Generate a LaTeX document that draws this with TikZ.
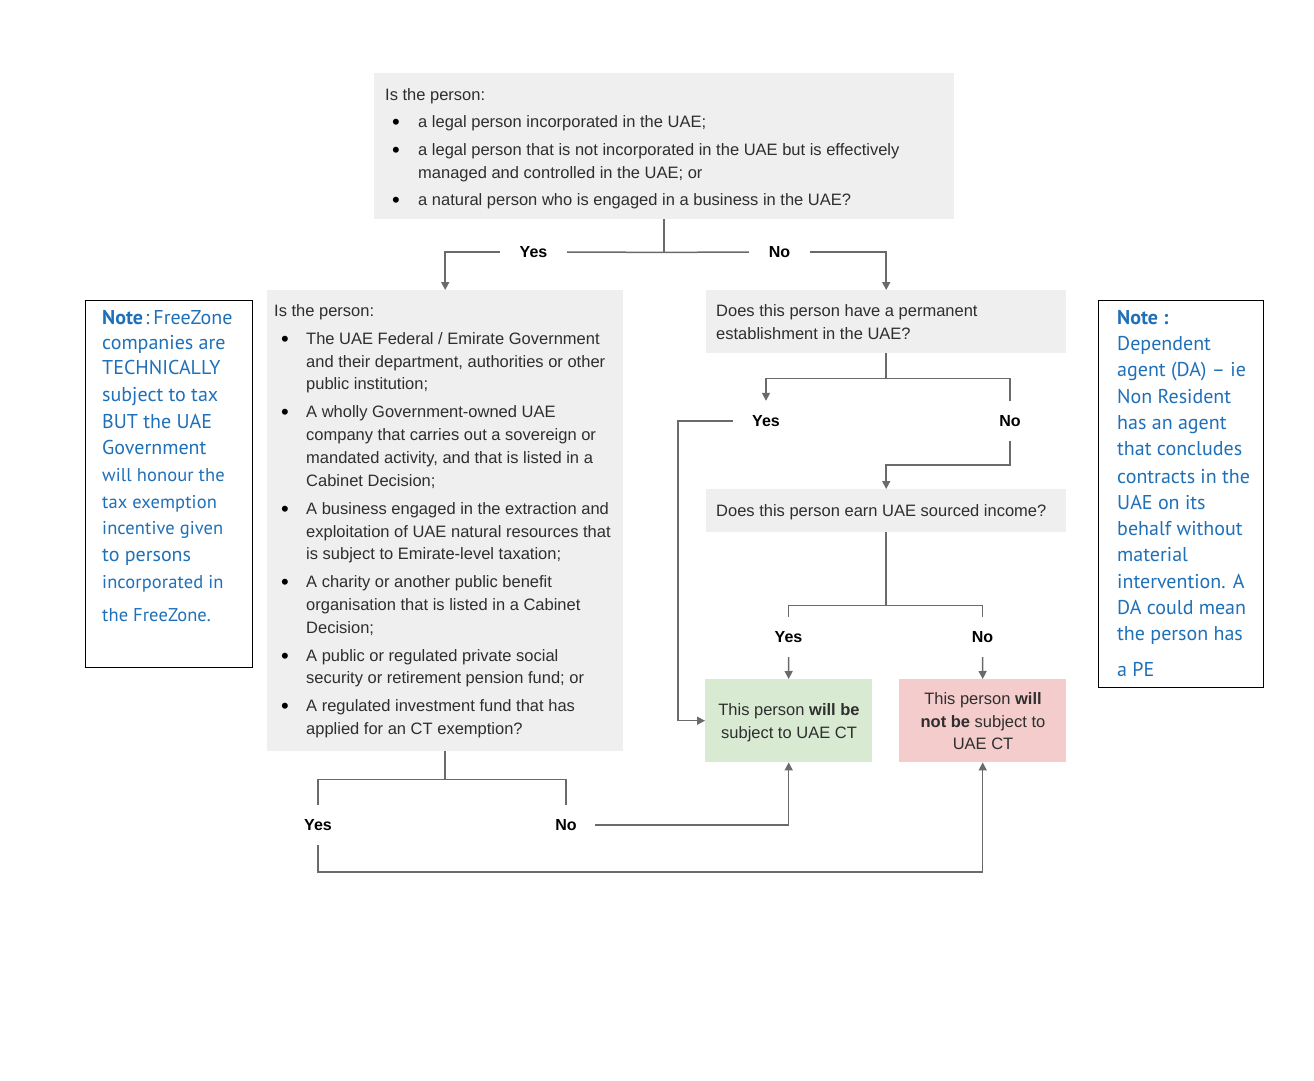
\documentclass[tikz,border=0pt]{standalone}
\usepackage{fontspec}
\setmainfont{Liberation Sans}
\newfontfamily\notefont{PT Sans}
\usetikzlibrary{arrows.meta}
\definecolor{boxgray}{HTML}{EFEFEF}
\definecolor{linegray}{HTML}{6A6A6A}
\definecolor{txtgray}{HTML}{2E2E2E}
\definecolor{yesgreen}{HTML}{D9EAD3}
\definecolor{nored}{HTML}{F4CCCC}
\definecolor{noteblue}{HTML}{1F70B8}
\begin{document}
\begin{tikzpicture}[x=1pt,y=-1pt,
  qbox/.style={fill=boxgray,draw=none,inner sep=0,anchor=north west},
  tx/.style={anchor=base west,inner sep=0,text=txtgray,font=\fontsize{16.5}{19}\selectfont},
  ctx/.style={anchor=base,inner sep=0,text=txtgray,font=\fontsize{16.5}{19}\selectfont},
  bul/.style={anchor=base,inner sep=0,text=black,font=\fontsize{22}{22}\selectfont},
  lab/.style={font=\bfseries\fontsize{16}{19}\selectfont,text=black,inner sep=0,minimum height=40pt},
  conn/.style={draw=linegray,line width=1.5pt},
  arr/.style={conn,-{Triangle[length=8pt,width=8pt]}},
  notebox/.style={draw=black,line width=1pt,fill=white,inner sep=0,anchor=north west},
  ntx/.style={anchor=base west,inner sep=0,text=noteblue,font=\notefont\fontsize{20}{24}\selectfont},
  ntxs/.style={anchor=base west,inner sep=0,text=noteblue,font=\notefont\fontsize{18.5}{22}\selectfont\addfontfeature{LetterSpace=0.5}}
]
\useasboundingbox (0,0) rectangle (1314,1080);
\fill[white] (0,0) rectangle (1314,1080);

% ---------- question boxes ----------
\node[qbox,minimum width=580pt,minimum height=146pt] (q1) at (374,73) {};
\node[qbox,minimum width=356pt,minimum height=461pt] (q2) at (267,290) {};
\node[qbox,minimum width=360pt,minimum height=63pt] (q3) at (706,290) {};
\node[qbox,minimum width=360pt,minimum height=43pt] (q4) at (706,489) {};
\node[qbox,fill=yesgreen,minimum width=167pt,minimum height=83pt] (g) at (705,679) {};
\node[qbox,fill=nored,minimum width=167pt,minimum height=83pt] (r) at (899,679) {};

% ---------- text of box q1 ----------
\node[tx] (q1t0) at (385,100) {Is the person:};
\foreach \i/\y in {1/129,2/157,3/207} \node[bul] (q1b\i) at (396,\y) {•};
\foreach \i/\y/\t in {1/127/{a legal person incorporated in the UAE;},
  2/155/{a legal person that is not incorporated in the UAE but is effectively},
  3/178/{managed and controlled in the UAE; or},
  4/205/{a natural person who is engaged in a business in the UAE?}}
  \node[tx] (q1t\i) at (418,\y) {\t};

% ---------- text of box q2 ----------
\node[tx] (q2t0) at (274,316) {Is the person:};
\foreach \i/\y in {1/346,2/419,3/516,4/589,5/663,6/713} \node[bul] (q2b\i) at (285,\y) {•};
\foreach \i/\y/\t in {1/344/{The UAE Federal / Emirate Government},
  2/367/{and their department, authorities or other},
  3/389/{public institution;},
  4/417/{A wholly Government-owned UAE},
  5/440/{company that carries out a sovereign or},
  6/463/{mandated activity, and that is listed in a},
  7/486/{Cabinet Decision;},
  8/514/{A business engaged in the extraction and},
  9/537/{exploitation of UAE natural resources that},
  10/559/{is subject to Emirate-level taxation;},
  11/587/{A charity or another public benefit},
  12/610/{organisation that is listed in a Cabinet},
  13/633/{Decision;},
  14/661/{A public or regulated private social},
  15/683/{security or retirement pension fund; or},
  16/711/{A regulated investment fund that has},
  17/734/{applied for an CT exemption?}}
  \node[tx] (q2t\i) at (306,\y) {\t};

% ---------- text of q3, q4 ----------
\node[tx] (q3t1) at (716,316) {Does this person have a permanent};
\node[tx] (q3t2) at (716,339) {establishment in the UAE?};
\node[tx] (q4t1) at (716,516) {Does this person earn UAE sourced income?};

% ---------- outcome texts ----------
\node[ctx] (gt1) at (789,715) {This person \textbf{will be}};
\node[ctx] (gt2) at (789,738) {subject to UAE CT};
\node[ctx] (rt1) at (983,704) {This person \textbf{will}};
\node[ctx] (rt2) at (983,727) {\textbf{not be} subject to};
\node[ctx] (rt3) at (983,749) {UAE CT};

% ---------- labels ----------
\node[lab,minimum width=67pt] (y1) at (533.5,252) {Yes};
\node[lab,minimum width=61pt] (n1) at (779.5,252) {No};
\node[lab,minimum width=66pt] (y3) at (766,421) {Yes};
\node[lab,minimum width=40pt] (n3) at (1010,421) {No};
\node[lab,minimum width=40pt] (y4) at (788.5,637) {Yes};
\node[lab,minimum width=40pt] (n4) at (982.5,637) {No};
\node[lab,minimum width=40pt] (y2) at (318,825) {Yes};
\node[lab,minimum width=58pt] (n2) at (566,825) {No};

% ---------- connectors ----------
\draw[conn] (q1.south) -- ++(0,33) coordinate (j1);
\draw[conn] (j1) -- (y1.east);
\draw[arr] (y1.west) -| (q2.north);
\draw[conn] (j1) -- (n1.west);
\draw[arr] (n1.east) -| (q3.north);

\draw[conn] (q3.south) -- ++(0,25) coordinate (j3);
\draw[arr] (j3) -| (y3.north);
\draw[conn] (j3) -| (n3.north);
\draw[arr] (n3.south) -- ++(0,24) -| (q4.north);
\draw[arr] (y3.west) -| ([xshift=-27pt]g.west) -- (g.west);

\draw[conn] (q4.south) -- ++(0,73) coordinate (j4);
\draw[conn] (j4) -| (y4.north);
\draw[conn] (j4) -| (n4.north);
\draw[arr] (y4.south) -- (g.north);
\draw[arr] (n4.south) -- (r.north);

\draw[conn] (q2.south) -- ++(0,28) coordinate (j2);
\draw[conn] (j2) -| (y2.north);
\draw[conn] (j2) -| (n2.north);
\draw[arr] (n2.east) -| (g.south);
\draw[arr] (y2.south) -- ++(0,27) -| (r.south);

% ---------- notes ----------
\node[notebox,minimum width=167pt,minimum height=367pt] (ln) at (85,300) {};
\node[ntx] (ln1) at (102,324) {\textbf{Note}\hspace{2pt}:\hspace{4pt}FreeZone};
\foreach \i/\y/\t in {2/349/{companies are},3/374/{TECHNICALLY},4/401/{subject to tax},
  5/428/{BUT the UAE},6/454/{Government},10/561/{to persons}}
  \node[ntx] (ln\i) at (102,\y) {\t};
\foreach \i/\y/\t in {7/481/{will honour the},8/508/{tax exemption},9/534/{incentive given},
  11/588/{incorporated in},12/621/{the FreeZone.}}
  \node[ntxs] (ln\i) at (102,\y) {\t};

\node[notebox,minimum width=165pt,minimum height=387pt] (rn) at (1098,300) {};
\node[ntx] (rn1) at (1117,324) {\textbf{Note :}};
\foreach \i/\y/\t in {2/350/{Dependent},3/376/{agent (DA) – ie},4/403/{Non Resident},
  5/429/{has an agent},6/455/{that concludes},7/483/{contracts in the},8/509/{UAE on its},
  9/535/{behalf without},10/561/{material},11/588/{intervention. A},12/614/{DA could mean},
  13/640/{the person has},14/676/{a PE}}
  \node[ntx] (rn\i) at (1117,\y) {\t};
\end{tikzpicture}
\end{document}
